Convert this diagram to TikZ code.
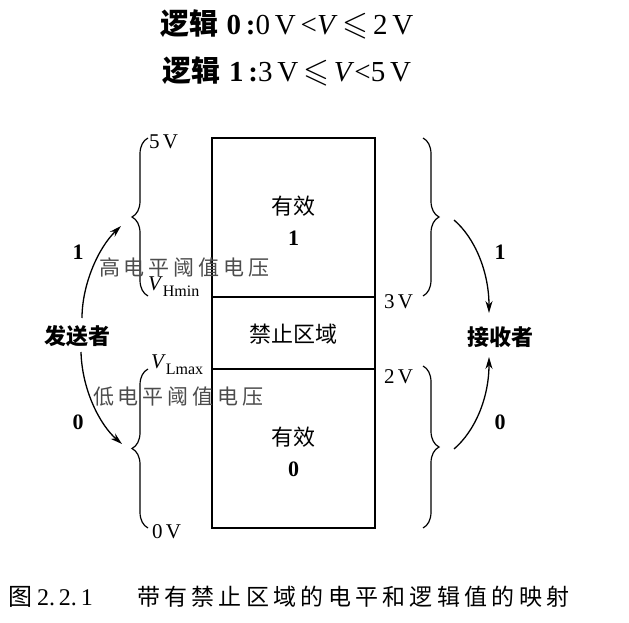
\documentclass[tikz,border=0pt]{standalone}
\usepackage{fontspec}
\usepackage{amssymb}
\setmainfont{Liberation Serif}
\newfontfamily\cjk{Noto Sans CJK SC}
\usetikzlibrary{decorations.pathreplacing,arrows.meta}
\newcommand\cjkgap{\hspace{4pt}}
\newcommand\capgap{\hspace{4.3pt}}
\begin{document}
\begin{tikzpicture}[x=1pt,y=-1pt,
  every node/.style={inner sep=0pt,outer sep=0pt},
  box/.style={line width=2.2pt},
  lbrace/.style={decorate,decoration={brace,amplitude=16pt},line width=1.2pt},
  arr/.style={line width=1.3pt,-{Stealth[length=12pt,width=7pt]}},
  cn/.style={font=\fontsize{22}{24}\cjk},
  cnb/.style={font=\fontsize{22}{24}\cjk\bfseries},
  num/.style={font=\fontsize{22}{24}\selectfont\bfseries},
  volt/.style={font=\fontsize{21}{22}\selectfont},
  thr/.style={font=\fontsize{21}{22}\cjk,text=black!70},
  title/.style={font=\fontsize{29}{30}\selectfont},
]
\useasboundingbox (0,0) rectangle (629,623);

% title
\node[title] (t1) at (287,24) {{\cjk\bfseries 逻辑}\;\textbf{0}\,\textbf{:}0\,V\,<\textit{V}\,\scalebox{1.15}{$\leqslant$}\,2\,V};
\node[title] (t2) at (287,71) {{\cjk\bfseries 逻辑}\;\textbf{1}\,\textbf{:}3\,V\,\scalebox{1.15}{$\leqslant$}\,\textit{V}<5\,V};

% box
\draw[box] (212,138) rectangle (375,528);
\draw[box] (212,297) -- (375,297);
\draw[box] (212,369) -- (375,369);

\node[cn] (v1a) at (293.5,206) {有效};
\node[num] (v1b) at (293.5,238) {1};
\node[cn] (forb) at (293.5,334) {禁止区域};
\node[cn] (v0a) at (293.5,437) {有效};
\node[num] (v0b) at (293.5,469) {0};

% left braces
\draw[lbrace] (148,296) -- (148,138);
\draw[lbrace] (148,528) -- (148,369);
% right braces
\draw[lbrace] (423,138) -- (423,296);
\draw[lbrace] (423,366) -- (423,528);

% left labels
\node[volt,anchor=west] (l5) at (149,142) {5\,V};
\node[volt,anchor=west] (lh) at (148,287) {\textit{V}\raisebox{-6pt}{\fontsize{16}{16}\selectfont Hmin}};
\node[thr,anchor=west] (lht) at (99,267) {高\cjkgap 电\cjkgap 平\cjkgap 阈\cjkgap 值\cjkgap 电\cjkgap 压};
\node[volt,anchor=west] (ll) at (151,365) {\textit{V}\raisebox{-6pt}{\fontsize{16}{16}\selectfont Lmax}};
\node[thr,anchor=west] (llt) at (93,397) {低\cjkgap 电\cjkgap 平\cjkgap 阈\cjkgap 值\cjkgap 电\cjkgap 压};
\node[volt,anchor=west] (l0) at (152,532) {0\,V};

\node[num] (one1) at (78,252) {1};
\node[num] (zero1) at (78,422) {0};
\node[cnb] (send) at (77,336) {发送者};

% right labels
\node[volt,anchor=west] (r3) at (384,302) {3\,V};
\node[volt,anchor=west] (r2) at (384,377) {2\,V};
\node[num] (one2) at (500,252) {1};
\node[num] (zero2) at (500,422) {0};
\node[cnb] (recv) at (500,337) {接收者};

% arrow endpoints
\coordinate (s1) at (82,318);
\coordinate (s2) at (81,352);
\coordinate (tl1) at (121,226);
\coordinate (tl0) at (122,444);
\coordinate (b1) at (454,220);
\coordinate (b0) at (454,449);
\coordinate (r1) at (489,313);
\coordinate (r0) at (489,357);

\draw[arr] (s1) .. controls (82,285) and (98,248) .. (tl1);
\draw[arr] (s2) .. controls (82,390) and (100,425) .. (tl0);
\draw[arr] (b1) .. controls (475,238) and (489,272) .. (r1);
\draw[arr] (b0) .. controls (475,431) and (489,398) .. (r0);

% caption
\node[font=\fontsize{24}{26}\selectfont,anchor=west] (cap1) at (9,597) {{\cjk 图}\,2.\,2.\,1};
\node[font=\fontsize{23}{26}\cjk,anchor=west] (cap2) at (137,597) {带\capgap 有\capgap 禁\capgap 止\capgap 区\capgap 域\capgap 的\capgap 电\capgap 平\capgap 和\capgap 逻\capgap 辑\capgap 值\capgap 的\capgap 映\capgap 射};
\end{tikzpicture}
\end{document}
